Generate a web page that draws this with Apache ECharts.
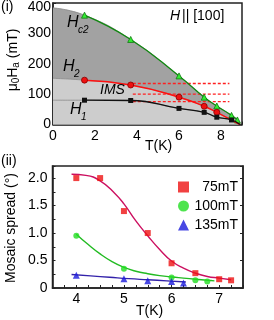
<!DOCTYPE html>
<html><head><meta charset="utf-8">
<script src="https://cdn.jsdelivr.net/npm/echarts@6/dist/echarts.min.js"></script>
<style>html,body{margin:0;padding:0;background:#fff}#c{width:274px;height:320px}</style>
</head><body><div id="c"></div>
<script>
// ---------- Panel (i): phase diagram ----------
const hc2BoundT = [0, 1.5, 3.7, 6.0, 7.2, 7.8, 8.5, 8.78, 8.9];
const hc2BoundH = [384, 360, 280, 160, 90, 61, 30, 15, 0];
const h2BoundT  = [0, 1.5, 3.7, 6.0, 7.2, 7.8, 8.9];
const h2BoundH  = [152, 146, 130, 90, 60, 40, 0];
const h1BoundT  = [0, 1.5, 3.7, 6.0, 7.2, 7.8, 8.5, 8.9];
const h1BoundH  = [80, 80, 79, 53, 40, 24, 15, 0];
const hc2PtT = [1.5, 3.7, 6.0, 7.2, 7.8, 8.5, 8.78];
const hc2PtH = [360, 280, 160, 90, 61, 30, 15];
const h2PtT = [1.5, 3.7, 6.0, 7.2, 7.8];
const h2PtH = [146, 130, 90, 60, 40];
const h1PtT = [1.5, 3.7, 6.0, 7.2, 7.8, 8.5];
const h1PtH = [80, 79, 53, 40, 24, 15];
const tc = 8.9;
const fieldLevels = [135, 100, 75];
const fieldLineFromT = 3.8, fieldLineToT = 8.4;
const topXTicks = [0, 2, 4, 6, 8];
const topYTicks = [0, 100, 200, 300, 400];

// ---------- Panel (ii): mosaic spread ----------
const seriesNames = ['75mT', '100mT', '135mT'];
const ptT75  = [4.0, 4.5, 5.0, 5.5, 6.0, 6.5, 7.0, 7.25];
const pt75   = [2.0, 2.0, 1.4, 1.0, 0.45, 0.27, 0.16, 0.14];
const ptT100 = [4.0, 5.0, 6.0, 6.5, 6.75];
const pt100  = [0.95, 0.35, 0.19, 0.14, 0.12];
const ptT135 = [4.0, 5.0, 5.5, 6.0, 6.25];
const pt135  = [0.23, 0.17, 0.13, 0.12, 0.09];
const fitT75  = [3.9, 4.2, 4.5, 4.8, 5.0, 5.25, 5.5, 5.75, 6.0, 6.25, 6.5, 6.75, 7.0, 7.25];
const fit75   = [2.07, 2.05, 1.95, 1.73, 1.53, 1.22, 0.95, 0.70, 0.49, 0.36, 0.27, 0.21, 0.18, 0.15];
const fitT100 = [4.0, 4.25, 4.5, 4.75, 5.0, 5.25, 5.5, 5.75, 6.0, 6.25, 6.5, 6.75, 6.9];
const fit100  = [0.98, 0.79, 0.62, 0.48, 0.375, 0.305, 0.26, 0.225, 0.2, 0.18, 0.16, 0.14, 0.13];
const fitT135 = [3.9, 4.3, 4.7, 5.1, 5.5, 5.9, 6.3];
const fit135  = [0.245, 0.22, 0.195, 0.17, 0.15, 0.13, 0.11];
const botXTicks = [4, 5, 6, 7];
const botYTicks = [0, 0.5, 1.0, 1.5, 2.0];

const zip = (a, b) => a.map((v, i) => [v, b[i]]);
const FONT = 'Liberation Sans, Arial, sans-serif';
const AX = '#222';
const SM = 0.5;

const chart = echarts.init(document.getElementById('c'), null, {renderer: 'canvas'});

function withEnd(t, h) {
  const d = zip(t, h).map(p => ({value: p}));
  d.push({value: [tc, 0], symbol: 'none'});
  return d;
}

const series = [
  {type: 'line', xAxisIndex: 0, yAxisIndex: 0, data: zip(hc2BoundT, hc2BoundH), smooth: SM,
   symbol: 'none', lineStyle: {width: 0.8, color: '#8a8a8a'}, areaStyle: {color: '#a2a2a2', opacity: 1}, z: 1, silent: true},
  {type: 'line', xAxisIndex: 0, yAxisIndex: 0, data: zip(h2BoundT, h2BoundH), smooth: SM,
   symbol: 'none', lineStyle: {width: 0.8, color: '#8a8a8a'}, areaStyle: {color: '#cdcdcd', opacity: 1}, z: 2, silent: true},
  {type: 'line', xAxisIndex: 0, yAxisIndex: 0, data: zip(h1BoundT, h1BoundH), smooth: SM,
   symbol: 'none', lineStyle: {width: 0.8, color: '#8a8a8a'}, z: 3, silent: true},
];
fieldLevels.forEach(h => series.push({
  type: 'line', xAxisIndex: 0, yAxisIndex: 0, data: [[fieldLineFromT, h], [fieldLineToT, h]],
  symbol: 'none', lineStyle: {width: 1.3, color: '#ff2020', type: [3, 2]}, z: 4, silent: true
}));
series.push(
  {type: 'line', xAxisIndex: 0, yAxisIndex: 0, data: withEnd(hc2PtT, hc2PtH), smooth: SM,
   symbol: 'triangle', symbolSize: 6, lineStyle: {width: 1.3, color: '#118811'},
   itemStyle: {color: '#33ee33', borderColor: '#117711', borderWidth: 0.8}, z: 5},
  {type: 'line', xAxisIndex: 0, yAxisIndex: 0, data: withEnd(h2PtT, h2PtH), smooth: SM,
   symbol: 'circle', symbolSize: 6, lineStyle: {width: 1.5, color: '#ff1010'},
   itemStyle: {color: '#ee1111', borderColor: '#880000', borderWidth: 0.8}, z: 6},
  {type: 'line', xAxisIndex: 0, yAxisIndex: 0, data: withEnd(h1PtT, h1PtH), smooth: SM,
   symbol: 'rect', symbolSize: 5, lineStyle: {width: 1.3, color: '#111'},
   itemStyle: {color: '#111'}, z: 6},
  {type: 'line', xAxisIndex: 1, yAxisIndex: 1, data: zip(fitT75, fit75), smooth: SM,
   symbol: 'none', lineStyle: {width: 1.4, color: '#cc1060'}, z: 3, silent: true},
  {type: 'line', xAxisIndex: 1, yAxisIndex: 1, data: zip(fitT100, fit100), smooth: SM,
   symbol: 'none', lineStyle: {width: 1.4, color: '#22bb22'}, z: 3, silent: true},
  {type: 'line', xAxisIndex: 1, yAxisIndex: 1, data: zip(fitT135, fit135), smooth: SM,
   symbol: 'none', lineStyle: {width: 1.4, color: '#3322aa'}, z: 3, silent: true},
  {name: seriesNames[0], type: 'scatter', xAxisIndex: 1, yAxisIndex: 1, data: zip(ptT75, pt75),
   symbol: 'rect', symbolSize: 6, itemStyle: {color: '#ee1111'}, z: 5},
  {name: seriesNames[1], type: 'scatter', xAxisIndex: 1, yAxisIndex: 1, data: zip(ptT100, pt100),
   symbol: 'circle', symbolSize: 6, itemStyle: {color: '#22dd22'}, z: 5},
  {name: seriesNames[2], type: 'scatter', xAxisIndex: 1, yAxisIndex: 1, data: zip(ptT135, pt135),
   symbol: 'triangle', symbolSize: 7, itemStyle: {color: '#1a1adc'}, z: 5}
);

const tickStyle = {show: true, inside: true, length: 3, lineStyle: {color: AX, width: 1}};
const lineStyle = {show: true, lineStyle: {color: AX, width: 1.5}};
const lbl = {color: '#000', fontSize: 14, fontFamily: FONT};
const minor = {show: true, splitNumber: 2, length: 3, lineStyle: {color: AX}};

function txt(x, y, text, font) {
  return {type: 'text', x: x, y: y, z: 100, style: {text: text, font: font + FONT, fill: '#000'}};
}

chart.setOption({
  animation: false,
  textStyle: {fontFamily: FONT},
  grid: [
    {left: 53, top: 3, width: 189, height: 121.5, show: true, borderColor: AX, borderWidth: 1.5},
    {left: 52.5, top: 166, width: 190.5, height: 122, show: true, borderColor: AX, borderWidth: 1.5}
  ],
  xAxis: [
    {gridIndex: 0, type: 'value', min: 0, max: 9, interval: 2,
     axisLine: lineStyle, axisTick: tickStyle, minorTick: minor, splitLine: {show: false},
     axisLabel: Object.assign({}, lbl, {margin: 5, showMaxLabel: false,
       formatter: v => topXTicks.includes(v) ? String(v) : ''})},
    {gridIndex: 1, type: 'value', min: 3.5, max: 7.5, interval: 0.5,
     axisLine: lineStyle, axisTick: tickStyle, minorTick: minor, splitLine: {show: false},
     axisLabel: Object.assign({}, lbl, {margin: 4,
       formatter: v => botXTicks.includes(v) ? String(v) : ''})}
  ],
  yAxis: [
    {gridIndex: 0, type: 'value', min: 0, max: 400, interval: 100,
     axisLine: lineStyle, axisTick: tickStyle, minorTick: minor, splitLine: {show: false},
     axisLabel: Object.assign({}, lbl, {margin: 2,
       formatter: v => topYTicks.includes(v) ? (v === 400 ? '{t|400}' : String(v)) : '',
       rich: {t: {fontSize: 14, fontFamily: FONT, color: '#000', padding: [8, 0, 0, 0]}}})},
    {gridIndex: 1, type: 'value', min: 0, max: 2.22, interval: 0.5,
     axisLine: lineStyle, axisTick: tickStyle, minorTick: minor, splitLine: {show: false},
     axisLabel: Object.assign({}, lbl, {margin: 5, showMaxLabel: false,
       formatter: v => botYTicks.includes(v) ? (v === 0 ? '0' : v.toFixed(1)) : ''})},
    {gridIndex: 1, type: 'value', position: 'right', min: 0, max: 2.22, interval: 0.5,
     axisLine: lineStyle, axisTick: tickStyle, splitLine: {show: false}, axisLabel: {show: false}}
  ],
  legend: {
    orient: 'vertical', left: 173, top: 175, itemWidth: 11, itemHeight: 11, itemGap: 5,
    data: [{name: seriesNames[0], icon: 'rect'}, {name: seriesNames[1], icon: 'circle'}, {name: seriesNames[2], icon: 'triangle'}],
    formatter: '{a|{name}}',
    textStyle: {fontSize: 14, color: '#000', lineHeight: 14,
      rich: {a: {width: 44, align: 'right', fontSize: 14, fontFamily: FONT, color: '#000'}}}
  },
  graphic: [
    txt(1, 0, '(i)', '14px '),
    txt(1, 154, '(ii)', '14px '),
    txt(67, 15, 'H', 'italic 16px '),
    txt(78, 25, 'c2', 'italic 10px '),
    txt(63, 59, 'H', 'italic 16px '),
    txt(74, 69, '2', 'italic 10px '),
    txt(100, 83, 'IMS', 'italic 14px '),
    txt(70, 102, 'H', 'italic 16px '),
    txt(81, 112, '1', 'italic 10px '),
    txt(170, 9, 'H', 'italic 14px '),
    txt(182, 9, '|| [100]', '14px '),
    txt(145, 139, 'T(K)', '14px '),
    txt(136, 304, 'T(K)', '14px '),
    {type: 'text', x: 13, y: 60, rotation: Math.PI / 2, z: 100,
     style: {text: '{m|μ}{s|0}{m|H}{s|a}{m| (mT)}', align: 'center', verticalAlign: 'middle',
       rich: {m: {font: '14px ' + FONT, fill: '#000', lineHeight: 16},
              s: {font: '10px ' + FONT, fill: '#000', lineHeight: 16, verticalAlign: 'bottom', padding: [8, 0, 0, 0]}}}},
    {type: 'text', x: 11, y: 228, rotation: Math.PI / 2, z: 100,
     style: {text: 'Mosaic spread (°)', align: 'center', verticalAlign: 'middle', font: '14px ' + FONT, fill: '#000'}}
  ],
  series: series
});
</script></body></html>
